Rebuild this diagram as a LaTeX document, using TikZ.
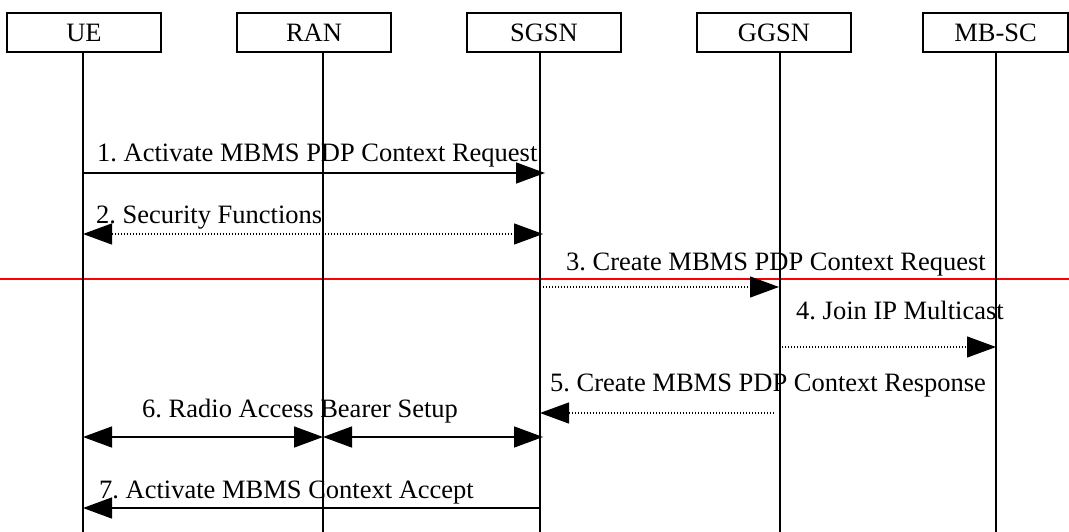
\documentclass[tikz,border=0pt]{standalone}
\usepackage{fontspec}
\setmainfont{Liberation Serif}
\usetikzlibrary{arrows.meta}
\frenchspacing
\begin{document}
\begin{tikzpicture}[x=1pt,y=-1pt,
  entity/.style={draw, line width=1.5pt, minimum width=154pt, minimum height=39pt, inner sep=0pt, font=\fontsize{26.5}{30}\selectfont},
  life/.style={line width=1.6pt},
  msg/.style={line width=1.5pt},
  dotmsg/.style={line width=1.3pt, dash pattern=on 1.3pt off 1.7pt},
  tipend/.style={-{Triangle[length=29pt,width=21pt]}},
  tipboth/.style={{Triangle[length=29pt,width=21pt]}-{Triangle[length=29pt,width=21pt]}},
  lbl/.style={anchor=base west, inner sep=0pt, font=\fontsize{26.5}{30}\selectfont}]
\useasboundingbox (0,0) rectangle (1069,532);

% entities
\node[entity] (ue)   at (84,32.5)  {UE};
\node[entity] (ran)  at (314,32.5) {RAN};
\node[entity] (sgsn) at (544,32.5) {SGSN};
\node[entity] (ggsn) at (774,32.5) {GGSN};
\node[entity, minimum width=145pt] (mbsc) at (995.5,32.5) {MB-SC};

% lifeline ends
\coordinate (ueT) at (83,52);   \coordinate (ueB) at (83,532);
\coordinate (ranT) at (323,52); \coordinate (ranB) at (323,532);
\coordinate (sgT) at (540,52);  \coordinate (sgB) at (540,532);
\coordinate (ggT) at (780,52);  \coordinate (ggB) at (780,532);
\coordinate (mbT) at (996,52);  \coordinate (mbB) at (996,532);

% red separator
\coordinate (redL) at (0,279);
\coordinate (redR) at (1069,279);
\draw[red, line width=1.8pt] (redL) -- (redR);

% lifelines
\draw[life] (ueT) -- (ueB);
\draw[life] (ranT) -- (ranB);
\draw[life] (sgT) -- (sgB);
\draw[life] (ggT) -- (ggB);
\draw[life] (mbT) -- (mbB);

% message end points
\coordinate (m1a) at (83,173);  \coordinate (m1b) at (545,173);
\coordinate (m2a) at (83,234);  \coordinate (m2b) at (543,234);
\coordinate (m3a) at (540,287); \coordinate (m3b) at (779,287);
\coordinate (m4a) at (782,347); \coordinate (m4b) at (996,347);
\coordinate (m5a) at (774,413); \coordinate (m5b) at (540,413);
\coordinate (m6a) at (83,437);  \coordinate (m6b) at (323,437);
\coordinate (m6c) at (543,437);
\coordinate (m7a) at (540,508); \coordinate (m7b) at (83,508);

% messages
\draw[msg, tipend] (m1a) -- (m1b);
\node[lbl] (l1) at (97,162) {1. Activate MBMS PDP Context Request};

\draw[dotmsg, tipboth] (m2a) -- (m2b);
\node[lbl] (l2) at (96,223) {2. Security Functions};

\draw[dotmsg, tipend] (m3a) -- (m3b);
\node[lbl] (l3) at (566,270) {3. Create MBMS PDP Context Request};

\draw[dotmsg, tipend] (m4a) -- (m4b);
\node[lbl] (l4) at (796,319) {4. Join IP Multicast};

\draw[dotmsg, tipend] (m5a) -- (m5b);
\node[lbl] (l5) at (550,391) {5. Create MBMS PDP Context Response};

\draw[msg, tipboth] (m6a) -- (m6b);
\draw[msg, tipboth] (m6b) -- (m6c);
\node[lbl] (l6) at (142,417) {6. Radio Access Bearer Setup};

\draw[msg, tipend] (m7a) -- (m7b);
\node[lbl] (l7) at (99,498) {7. Activate MBMS Context Accept};
\end{tikzpicture}
\end{document}
